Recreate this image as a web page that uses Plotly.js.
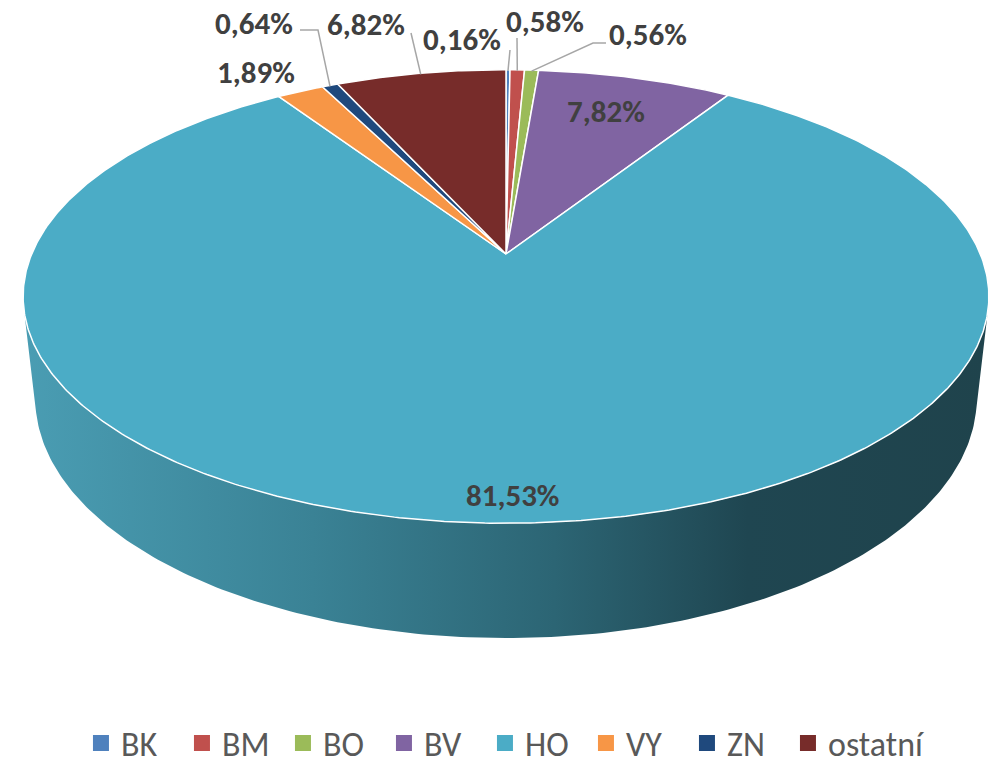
<!DOCTYPE html>
<html><head><meta charset="utf-8">
<script src="https://cdn.plot.ly/plotly-3.0.1.min.js"></script>
<style>html,body{margin:0;padding:0;background:#fff}#chart{width:991px;height:765px}</style>
</head><body><div id="chart"></div>
<script>
// ---- data ----
const categories = ['BK','BM','BO','BV','HO','VY','ZN','ostatní'];
const shares = [0.16, 0.58, 0.56, 7.82, 81.53, 1.89, 0.64, 6.82];
const shareLabels = ['0,16%','0,58%','0,56%','7,82%','81,53%','1,89%','0,64%','6,82%'];

// ---- styles / positions ----
const colors = ['#4f81bd','#c0504d','#9bbb59','#8064a2','#4bacc6','#f79646','#1f497d','#772c2a'];
const W = 991, H = 765;
const PHI = 28*Math.PI/180, SN = Math.sin(PHI), CS = Math.cos(PHI);
const DIST = 4.71, FX = 2234, FY = 2195, CX = 506, CY = 254, DEPTH = 0.25;
// label placement: [x, y] centre in px, and optional leader elbow points
const labelPos = [[462,39],[545,21],[648,34],[606,111],[512,495],[256,72],[254,23],[366,24]];
const leaderFrom = [[[510,50]], [[517,38]], [[606,43],[593,43]], null, null, null, [[300,30],[318,30]], [[411,33]]];
const FONT = 'Carlito, Lato, "Open Sans", sans-serif';

function proj(th, r, z) {
  const x = r*Math.cos(th), y = r*Math.sin(th);
  const dep = DIST + y*CS - z*SN;
  return [CX + FX*x/dep, CY - FY*(y*SN + z*CS)/dep];
}
function ang(frac) { return Math.PI/2 - 2*Math.PI*frac; }

const total = shares.reduce((a,b)=>a+b,0);
const traces = [];

// side wall (front silhouette)
const a = Math.asin(1/(DIST*CS));
const thL = -Math.PI + a, thR = -a;
const sx = [], sy = [];
const N = 200;
for (let k=0;k<=N;k++){ const t = thL + (thR-thL)*k/N; const p = proj(t,1,0); sx.push(p[0]); sy.push(p[1]); }
for (let k=N;k>=0;k--){ const t = thL + (thR-thL)*k/N; const p = proj(t,1,-DEPTH); sx.push(p[0]); sy.push(p[1]); }
sx.push(sx[0]); sy.push(sy[0]);
traces.push({type:'scatter', x:sx, y:sy, mode:'lines', fill:'toself', line:{width:0, color:'rgba(0,0,0,0)'},
  fillcolor:'#2b6372',
  fillgradient:{type:'horizontal', colorscale:[[0,'#4a9db3'],[0.3,'#3a8295'],[0.55,'#2c6574'],[0.75,'#1f4651'],[1,'#1f434c']]},
  showlegend:false, hoverinfo:'skip'});

// slices (top face)
let cum = 0;
const mids = [];
shares.forEach((v,i)=>{
  const f0 = cum/total, f1 = (cum+v)/total;
  cum += v;
  const t0 = ang(f0), t1 = ang(f1);
  const n = Math.max(2, Math.ceil(Math.abs(t1-t0)/(Math.PI/360)));
  const xs=[CX], ys=[CY];
  for (let k=0;k<=n;k++){ const p = proj(t0+(t1-t0)*k/n,1,0); xs.push(p[0]); ys.push(p[1]); }
  xs.push(CX); ys.push(CY);
  mids.push(proj((t0+t1)/2,1,0));
  traces.push({type:'scatter', x:xs, y:ys, mode:'lines', fill:'toself', fillcolor:colors[i],
    line:{color:'#ffffff', width:1.5}, showlegend:false, hoverinfo:'skip', name:categories[i]});
});

// leader lines
leaderFrom.forEach((pts,i)=>{
  if(!pts) return;
  const xs = pts.map(p=>p[0]).concat([mids[i][0]]);
  const ys = pts.map(p=>p[1]).concat([mids[i][1]+1]);
  traces.push({type:'scatter', x:xs, y:ys, mode:'lines', line:{color:'#a6a6a6', width:1.5}, showlegend:false, hoverinfo:'skip'});
});

// legend entries
categories.forEach((c,i)=>{
  traces.push({type:'scatter', x:[null], y:[null], mode:'markers', name:c,
    marker:{symbol:'square', size:16, color:colors[i]}, showlegend:true});
});
// spacer entry so the last legend label is not clipped
traces.push({type:'scatter', x:[null], y:[null], mode:'markers', name:' ',
  marker:{symbol:'square', size:1, color:'rgba(0,0,0,0)'}, showlegend:true});

const annotations = shareLabels.map((t,i)=>({x:labelPos[i][0], y:labelPos[i][1], xref:'x', yref:'y', text:t,
  showarrow:false, font:{family:FONT, size:31, color:'#404040', weight:'bold'}, xanchor:'center', yanchor:'middle'}));

const layout = {
  width:W, height:H, margin:{l:0,r:0,t:0,b:0, autoexpand:false},
  paper_bgcolor:'#ffffff', plot_bgcolor:'#ffffff',
  xaxis:{range:[0,W], visible:false, fixedrange:true},
  yaxis:{range:[H,0], visible:false, fixedrange:true},
  showlegend:true,
  legend:{orientation:'h', x:0.0817, xanchor:'left', y:0.066, yanchor:'top', entrywidth:56,
    font:{family:FONT, size:34, color:'#595959'}, bgcolor:'rgba(0,0,0,0)', itemclick:false, itemdoubleclick:false},
  annotations:annotations
};
Plotly.newPlot('chart', traces, layout, {staticPlot:true, displayModeBar:false});
</script></body></html>
